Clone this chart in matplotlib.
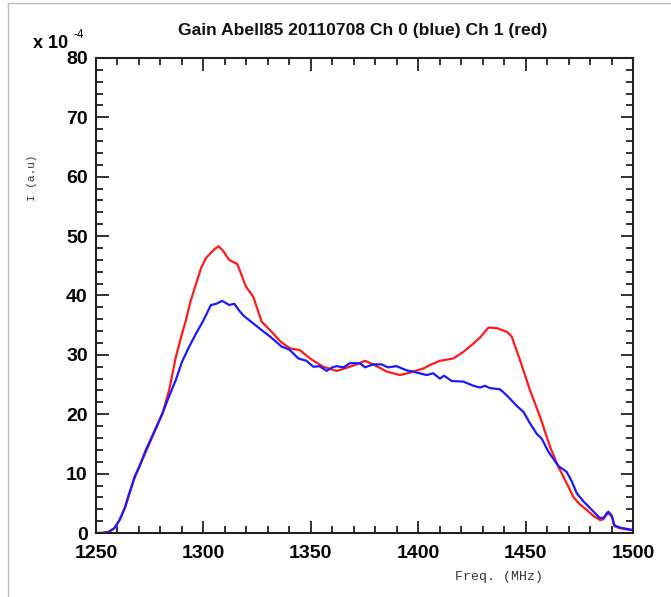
import numpy as np
import matplotlib
matplotlib.use("Agg")
import matplotlib.pyplot as plt
from matplotlib.lines import Line2D
from matplotlib.ticker import MultipleLocator

# Ch 1 (red), units of 1e-4
freq_red = [1250, 1253, 1256, 1258.5, 1261, 1263.5, 1265.5, 1268, 1270.2, 1273, 1276, 1279, 1281,
            1284, 1287.2, 1290, 1291.9, 1294, 1296.6, 1299, 1301.2, 1303.5, 1305.5, 1307.1, 1309,
            1312, 1315.8, 1319.8, 1323.2, 1327.1, 1332.5, 1336, 1340.3, 1344.9, 1350, 1355.8, 1362,
            1368.2, 1372, 1375.2, 1379, 1385.3, 1391.5, 1396, 1402.4, 1405.5, 1410.1, 1416.4, 1421,
            1425.7, 1429, 1432.7, 1436.6, 1441.2, 1443.5, 1447.4, 1452, 1456.7, 1461.4, 1465.2,
            1469.1, 1472.2, 1475, 1478.4, 1481.5, 1484.6, 1486.2, 1487.5, 1488.5, 1489.6, 1490.6,
            1491.6, 1494, 1498.6, 1500]
val_red = [0.0, 0.0, 0.2, 0.8, 2.2, 4.3, 6.6, 9.3, 11.2, 13.5, 16.0, 18.5, 20.2,
           24.0, 29.7, 33.5, 35.9, 39.0, 42.0, 44.7, 46.3, 47.2, 47.9, 48.3, 47.6,
           46.0, 45.3, 41.5, 39.8, 35.6, 33.6, 32.2, 31.1, 30.8, 29.3, 28.0, 27.3,
           28.0, 28.5, 29.0, 28.4, 27.2, 26.6, 27.0, 27.7, 28.3, 29.0, 29.4, 30.5,
           31.9, 33.0, 34.6, 34.5, 33.9, 33.1, 29.1, 24.1, 19.6, 14.5, 11.2,
           8.4, 6.1, 4.9, 3.9, 2.9, 2.2, 2.3, 3.0, 3.3, 3.0, 2.4,
           1.1, 0.8, 0.5, 0.5]

# Ch 0 (blue)
freq_blue = [1250, 1253, 1256, 1258.5, 1261, 1263.5, 1265.5, 1268, 1270.2, 1273, 1276, 1279, 1281,
             1284, 1287.2, 1290, 1293.4, 1296.6, 1300, 1303.5, 1306, 1308.7, 1312, 1314.4, 1317,
             1319, 1323.2, 1327, 1331, 1336.4, 1340, 1344.2, 1348, 1351.2, 1354, 1357.4, 1360,
             1362, 1365.3, 1368.2, 1372.9, 1375.2, 1379, 1382.9, 1386, 1389.9, 1394.6, 1398.5,
             1403.9, 1407, 1410.1, 1412, 1415.6, 1421, 1425.7, 1428.8, 1431.1, 1433.4, 1438.1,
             1441.2, 1445.9, 1449, 1452, 1455.2, 1457.5, 1460.6, 1465.2, 1469.1, 1471.5, 1473.8,
             1477, 1480, 1484.6, 1486.5, 1487.7, 1488.5, 1490, 1491.2, 1494, 1498.6, 1500]
val_blue = [0.0, 0.0, 0.2, 0.8, 2.2, 4.3, 6.7, 9.5, 11.2, 13.8, 16.2, 18.6, 20.2,
            23.0, 25.8, 28.8, 31.4, 33.6, 35.8, 38.4, 38.6, 39.1, 38.4, 38.6, 37.3,
            36.5, 35.3, 34.2, 33.1, 31.4, 30.9, 29.4, 29.0, 28.0, 28.1, 27.3, 27.9,
            28.1, 27.9, 28.6, 28.6, 27.9, 28.4, 28.4, 27.9, 28.1, 27.4, 27.1,
            26.6, 26.9, 26.0, 26.5, 25.6, 25.5, 24.8, 24.5, 24.8, 24.4, 24.2,
            23.2, 21.4, 20.4, 18.5, 16.7, 15.9, 13.7, 11.3, 10.3, 8.7, 6.7,
            5.3, 4.2, 2.5, 2.6, 3.3, 3.6, 3.0, 1.3, 0.9, 0.6, 0.5]

fig = plt.figure(figsize=(6.71, 5.97), dpi=100)
ax = fig.add_axes([96 / 671, 64 / 597, 537 / 671, 475 / 597])

ax.plot(freq_red, val_red, color="#ff1a1a", lw=1.6)
ax.plot(freq_blue, val_blue, color="#1a1aff", lw=1.6)

ax.set_xlim(1250, 1500)
ax.set_ylim(0, 80)
ax.xaxis.set_major_locator(MultipleLocator(50))
ax.xaxis.set_minor_locator(MultipleLocator(10))
ax.yaxis.set_major_locator(MultipleLocator(10))
ax.yaxis.set_minor_locator(MultipleLocator(2))
ax.tick_params(which="both", direction="in", top=True, right=True, width=1.3, color="#222222")
ax.tick_params(which="major", length=9, labelsize=14, pad=6)
ax.tick_params(axis="x", which="major", pad=9)
ax.tick_params(which="minor", length=5)
for lab in ax.get_xticklabels() + ax.get_yticklabels():
    lab.set_fontweight("bold")
    lab.set_family("Liberation Sans")
for s in ax.spines.values():
    s.set_linewidth(1.5)
    s.set_color("#222222")

fig.text(363 / 671, 1 - 30 / 597, "Gain Abell85 20110708 Ch 0 (blue) Ch 1 (red)",
         ha="center", va="center", fontsize=12.6, fontweight="bold", family="Liberation Sans",
         color="#111111")
fig.text(33 / 671, 1 - 43 / 597, "x 10", ha="left", va="center",
         fontsize=13, fontweight="bold", family="Liberation Sans")
fig.text(73 / 671, 1 - 35 / 597, "-4", ha="left", va="center",
         fontsize=8.5, family="Liberation Sans")
fig.text(32 / 671, 1 - 178 / 597, "I (a.u)", rotation=90, ha="center", va="center",
         fontsize=8, family="Liberation Mono", color="#333333")
fig.text(499 / 671, 1 - 577 / 597, "Freq. (MHz)", ha="center", va="center",
         fontsize=9.5, family="Liberation Mono", color="#333333")

# thin grey frame around the panel
fig.add_artist(Line2D([8 / 671, 8 / 671], [0, 1 - 3 / 597], transform=fig.transFigure,
                      color="#bbbbbb", lw=1))
fig.add_artist(Line2D([8 / 671, 1], [1 - 3 / 597, 1 - 3 / 597], transform=fig.transFigure,
                      color="#bbbbbb", lw=1))

fig.savefig("out.png", dpi=100)
